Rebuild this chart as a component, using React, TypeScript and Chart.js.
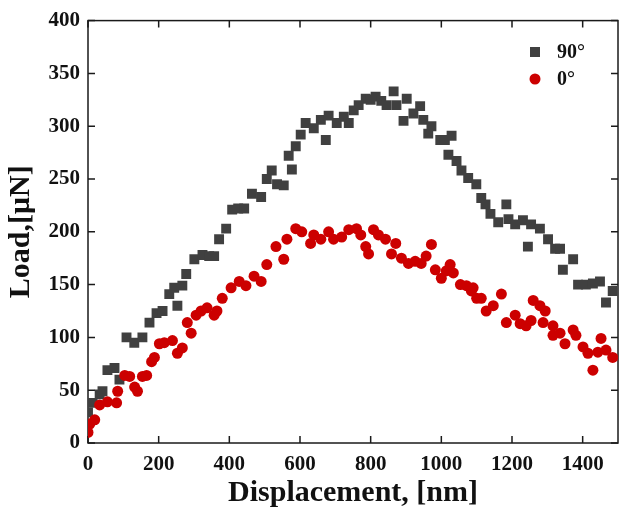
import React, { useEffect, useRef } from "react";
import { Chart, registerables } from "chart.js";

Chart.register(...registerables);

const label90 = "90°";
const label0 = "0°";

const disp90 = [0,13,33,41,55,75,89,109,131,154,174,194,211,230,244,253,267,278,301,324,343,357,371,391,408,425,442,464,490,506,520,535,554,568,577,588,602,616,639,659,673,681,704,724,738,752,766,786,800,814,830,845,865,873,893,902,921,940,949,963,972,997,1010,1020,1029,1043,1057,1076,1099,1113,1125,1139,1161,1184,1190,1209,1231,1245,1254,1279,1302,1322,1336,1344,1373,1387,1409,1429,1449,1466,1485];
const load90 = [29,38,46,49,69,71,60,100,95,100,114,123,125,141,147,130,149,160,174,178,177,177,193,203,221,222,222,236,233,250,258,245,244,272,259,281,292,303,298,306,287,310,303,309,303,315,320,326,325,328,324,320,333,320,305,326,312,319,306,293,300,287,287,273,291,267,258,251,245,232,226,217,209,226,212,207,211,186,207,203,193,184,184,164,174,150,150,151,153,133,144];

const disp0 = [0,5,19,33,55,81,84,104,118,132,140,154,166,180,188,202,216,239,253,267,281,292,306,320,337,357,365,380,405,428,447,470,490,506,532,554,563,588,605,630,639,659,681,695,718,738,760,772,786,794,808,822,842,859,871,887,907,926,943,957,972,983,1000,1014,1025,1034,1054,1071,1085,1090,1100,1113,1127,1147,1170,1184,1209,1223,1240,1254,1260,1279,1288,1294,1316,1316,1336,1350,1373,1381,1401,1415,1429,1443,1452,1466,1485];
const load0 = [10,18,22,36,39,38,49,64,63,53,49,63,64,77,81,94,95,97,85,90,114,104,121,125,128,121,125,137,147,153,149,158,153,169,186,174,193,203,200,189,197,193,200,193,195,202,203,197,186,179,202,197,193,179,189,175,170,172,170,177,188,164,156,163,169,161,150,149,144,147,137,137,125,130,141,114,121,113,111,116,135,130,114,125,111,102,104,94,107,102,91,85,69,86,99,88,81];

const xTicks = [0, 200, 400, 600, 800, 1000, 1200, 1400];
const yTicks = [0, 50, 100, 150, 200, 250, 300, 350, 400];

const xTitle = "Displacement, [nm]";
const yTitle = "Load,[μN]";

const GRAY = "#404040";
const RED = "#cc0000";
const FONT = "'Liberation Serif', 'Times New Roman', serif";

const framePlugin = {
  id: "frameTicks",
  beforeDatasetsDraw(chart: any) {
    const { ctx, chartArea: a, scales } = chart;
    const x = scales.x;
    const y = scales.y;
    ctx.save();
    ctx.strokeStyle = "#1a1a1a";
    ctx.lineWidth = 1.5;
    ctx.strokeRect(a.left, a.top, a.right - a.left, a.bottom - a.top);
    ctx.beginPath();
    x.ticks.forEach((t: any) => {
      const px = x.getPixelForValue(t.value);
      ctx.moveTo(px, a.bottom);
      ctx.lineTo(px, a.bottom - 7);
      ctx.moveTo(px, a.top);
      ctx.lineTo(px, a.top + 7);
    });
    y.ticks.forEach((t: any) => {
      const py = y.getPixelForValue(t.value);
      ctx.moveTo(a.left, py);
      ctx.lineTo(a.left + 7, py);
      ctx.moveTo(a.right, py);
      ctx.lineTo(a.right - 7, py);
    });
    ctx.stroke();
    ctx.restore();
  },
  afterDraw(chart: any) {
    const { ctx } = chart;
    const ds = chart.data.datasets;
    ctx.save();
    ctx.font = `bold 20px ${FONT}`;
    ctx.textBaseline = "middle";
    ctx.textAlign = "left";
    ctx.fillStyle = ds[1].backgroundColor;
    ctx.fillRect(530, 47, 10, 10);
    ctx.fillStyle = "#111";
    ctx.fillText(ds[1].label, 557, 53);
    ctx.fillStyle = ds[0].backgroundColor;
    ctx.beginPath();
    ctx.arc(535, 79, 5.5, 0, Math.PI * 2);
    ctx.fill();
    ctx.fillStyle = "#111";
    ctx.fillText(ds[0].label, 557, 80);
    ctx.restore();
  },
};

export default function App() {
  const ref = useRef<HTMLCanvasElement>(null);
  useEffect(() => {
    if (!ref.current) return;
    const chart = new Chart(ref.current, {
      type: "scatter",
      data: {
        datasets: [
          {
            label: label0,
            data: disp0.map((d, i) => ({ x: d, y: load0[i] })),
            backgroundColor: RED,
            borderColor: RED,
            borderWidth: 0,
            pointStyle: "circle",
            pointRadius: 5.5,
            order: 0,
            clip: 0,
          },
          {
            label: label90,
            data: disp90.map((d, i) => ({ x: d, y: load90[i] })),
            backgroundColor: GRAY,
            borderColor: GRAY,
            borderWidth: 0,
            pointStyle: "rect",
            pointRadius: 7,
            order: 1,
            clip: 0,
          },
        ],
      },
      options: {
        animation: false,
        responsive: false,
        devicePixelRatio: 1,
        layout: { autoPadding: false, padding: { top: 16, right: 1, left: 0, bottom: 0 } },
        plugins: { legend: { display: false }, tooltip: { enabled: false } },
        scales: {
          x: {
            type: "linear",
            min: 0,
            max: 1500,
            grid: { display: false, drawTicks: false },
            border: { display: false },
            afterBuildTicks: (s: any) => {
              s.ticks = xTicks.map((v) => ({ value: v }));
            },
            afterFit: (s: any) => {
              s.height = 68;
            },
            ticks: {
              padding: 9,
              color: "#111",
              maxRotation: 0,
              autoSkip: false,
              callback: (v: any) => String(v),
              font: { family: FONT, size: 21, weight: "bold" },
            },
            title: {
              display: true,
              text: xTitle,
              color: "#111",
              padding: { top: 0, bottom: 0 },
              font: { family: FONT, size: 30, weight: "bold" },
            },
          },
          y: {
            type: "linear",
            min: 0,
            max: 400,
            grid: { display: false, drawTicks: false },
            border: { display: false },
            afterBuildTicks: (s: any) => {
              s.ticks = yTicks.map((v) => ({ value: v }));
            },
            afterFit: (s: any) => {
              s.width = 88;
            },
            ticks: {
              padding: 8,
              color: "#111",
              callback: (v: any) => String(v),
              font: { family: FONT, size: 21, weight: "bold" },
            },
            title: {
              display: true,
              text: yTitle,
              color: "#111",
              padding: { top: 3, bottom: 0 },
              font: { family: FONT, size: 30, weight: "bold" },
            },
          },
        },
      },
      plugins: [framePlugin],
    } as any);
    return () => chart.destroy();
  }, []);
  return (
    <div style={{ position: "absolute", left: 0, top: 0, width: 619, height: 511, background: "#fff" }}>
      <canvas ref={ref} width={619} height={511} style={{ width: 619, height: 511 }} />
    </div>
  );
}
